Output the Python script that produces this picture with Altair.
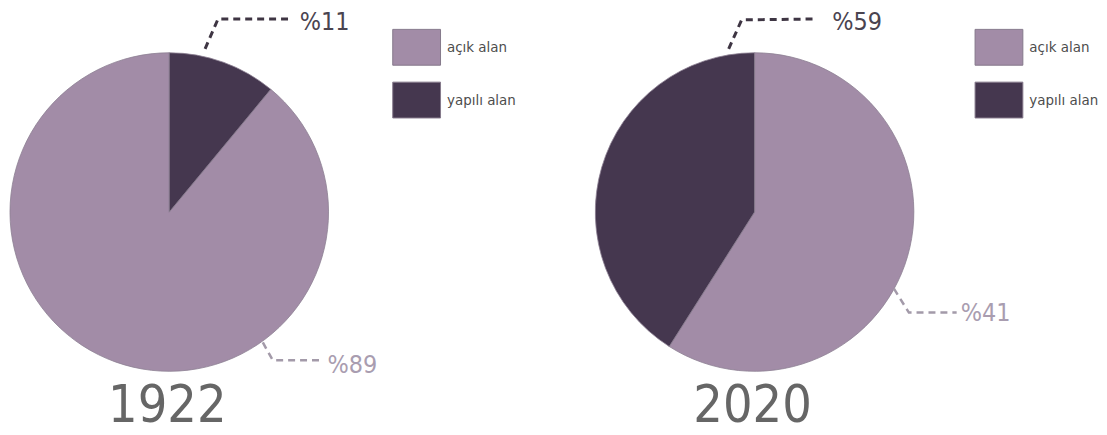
import altair as alt
import pandas as pd

# ---- data ----
categories = ["açık alan", "yapılı alan"]
years = ["1922", "2020"]
share_1922 = [89, 11]
share_2020 = [59, 41]
# clockwise order from 12 o'clock (1 = first)
order_1922 = [2, 1]
order_2020 = [1, 2]
label_texts_1922 = ["%11", "%89"]
label_texts_2020 = ["%59", "%41"]

# ---- styling / layout (kept apart from the data) ----
LIGHT = "#a28ca7"
DARK = "#45374f"
FONT = "DejaVu Sans Condensed, Liberation Sans Narrow, sans-serif"
R = 160  # pie radius in px

# annotation leader-line anchor offsets (px relative to the pie centre, y up)
ann_layout_1922 = [
    dict(pts=[(36, 164), (49, 194), (123, 194)], tx=131, ty=183, tone="dark"),
    dict(pts=[(94, -131), (104, -149), (153, -149)], tx=159, ty=-162, tone="light"),
]
ann_layout_2020 = [
    dict(pts=[(-26, 164), (-13, 193), (63, 194)], tx=78, ty=183, tone="dark"),
    dict(pts=[(140, -77), (155, -101), (203, -101)], tx=207, ty=-109, tone="light"),
]
TONE_LINE = {"dark": "#3e3543", "light": "#a39aa9"}
TONE_TEXT = {"dark": "#4a4450", "light": "#a99db0"}
TONE_WIDTH = {"dark": 3, "light": 2.5}

H = 416
Y_DOM = [-212, 204]


def panel(year, shares, order, texts, layout, xdom, width, legend_x):
    xs = alt.Scale(domain=xdom, nice=False, zero=False)
    ys = alt.Scale(domain=Y_DOM, nice=False, zero=False)

    pie_df = pd.DataFrame({
        "category": categories,
        "value": shares,
        "order": order,
        "cx": [0] * len(categories),
        "cy": [0] * len(categories),
    })
    pie = alt.Chart(pie_df).mark_arc(
        outerRadius=R, stroke="#8c8092", strokeWidth=0.8
    ).encode(
        x=alt.X("cx:Q", scale=xs, axis=None),
        y=alt.Y("cy:Q", scale=ys, axis=None),
        theta=alt.Theta("value:Q", stack=True),
        order=alt.Order("order:Q"),
        color=alt.Color(
            "category:N",
            scale=alt.Scale(domain=categories, range=[LIGHT, DARK]),
            legend=alt.Legend(
                orient="none", legendX=legend_x, legendY=14, title=None,
                symbolType="M-1,-0.75H1V0.75H-1Z", symbolSize=2304,
                symbolStrokeColor="#85798b", symbolStrokeWidth=1,
                symbolOpacity=1,
                labelFont=FONT, labelFontSize=15, labelColor="#4d4d4d",
                labelOffset=6, rowPadding=8, padding=0,
            ),
        ),
    )

    layers = [pie]
    for t, a in zip(texts, layout):
        line_df = pd.DataFrame({
            "x": [p[0] for p in a["pts"]],
            "y": [p[1] for p in a["pts"]],
            "i": list(range(len(a["pts"]))),
        })
        layers.append(
            alt.Chart(line_df).mark_line(
                color=TONE_LINE[a["tone"]], strokeWidth=TONE_WIDTH[a["tone"]],
                strokeDash=[7, 5],
            ).encode(
                x=alt.X("x:Q", scale=xs, axis=None),
                y=alt.Y("y:Q", scale=ys, axis=None),
                order="i:Q",
            )
        )
        txt_df = pd.DataFrame({"x": [a["tx"]], "y": [a["ty"]], "t": [t]})
        layers.append(
            alt.Chart(txt_df).mark_text(
                align="left", baseline="alphabetic", font=FONT, fontSize=25,
                color=TONE_TEXT[a["tone"]],
            ).encode(
                x=alt.X("x:Q", scale=xs, axis=None),
                y=alt.Y("y:Q", scale=ys, axis=None),
                text="t:N",
            )
        )

    year_df = pd.DataFrame({"x": [-2], "y": [-211], "t": [year]})
    layers.append(
        alt.Chart(year_df).mark_text(
            align="center", baseline="alphabetic", font=FONT, fontSize=52,
            color="#666666",
        ).encode(
            x=alt.X("x:Q", scale=xs, axis=None),
            y=alt.Y("y:Q", scale=ys, axis=None),
            text="t:N",
        )
    )
    return alt.layer(*layers).properties(width=width, height=H)


p1 = panel(years[0], share_1922, order_1922, label_texts_1922, ann_layout_1922,
           [-161, 425], 586, 385)
p2 = panel(years[1], share_2020, order_2020, label_texts_2020, ann_layout_2020,
           [-163, 342], 505, 384)

chart = alt.hconcat(p1, p2, spacing=0, bounds="flush").resolve_scale(
    color="independent"
).resolve_legend(color="independent").properties(
    padding={"left": 0, "top": 0, "right": 0, "bottom": 0},
    background="white",
).configure_view(stroke=None)

chart.save("out.html", embed_options={"renderer": "svg", "actions": False})
